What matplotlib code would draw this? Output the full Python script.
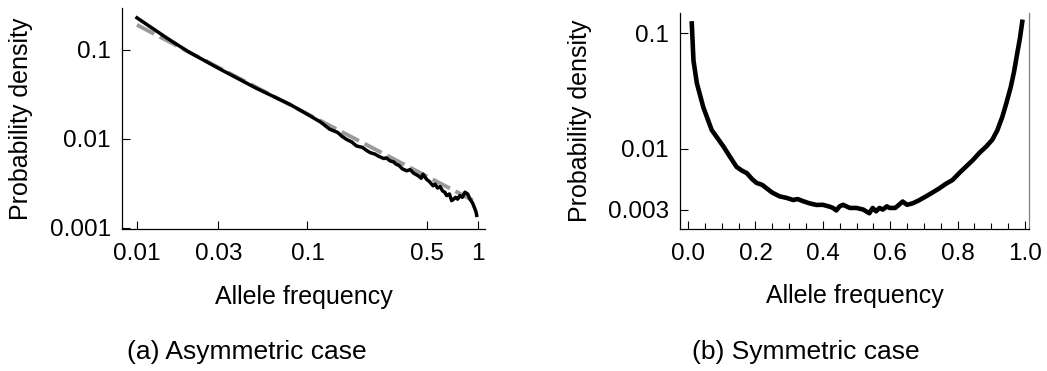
import numpy as np
import matplotlib
matplotlib.use("Agg")
import matplotlib.pyplot as plt
from matplotlib.ticker import FixedLocator, NullLocator, FixedFormatter, MultipleLocator

plt.rcParams["font.family"] = ["Liberation Sans", "DejaVu Sans"]

# (a) asymmetric case: simulated density (black) and power-law fit (grey dashed)
asym_x = [0.01, 0.012, 0.015, 0.02, 0.03, 0.05, 0.079, 0.1, 0.12, 0.135, 0.15,
          0.16, 0.17, 0.182, 0.194, 0.21, 0.222, 0.233, 0.25, 0.26, 0.28, 0.29,
          0.305, 0.32, 0.33, 0.345, 0.36, 0.382, 0.40, 0.42, 0.44, 0.45, 0.465,
          0.476, 0.49, 0.5, 0.52, 0.545, 0.56, 0.58, 0.60, 0.62, 0.64, 0.655,
          0.68, 0.701, 0.72, 0.74, 0.76, 0.784, 0.81, 0.839, 0.87, 0.898, 0.93,
          0.96, 0.975, 0.983]
asym_y = [0.228, 0.18, 0.135, 0.095, 0.062, 0.037, 0.0243, 0.0188, 0.0153, 0.0128,
          0.0118, 0.0106, 0.0098, 0.0092, 0.0083, 0.0080, 0.0074, 0.0070, 0.0067,
          0.0064, 0.0060, 0.0061, 0.00565, 0.0055, 0.0052, 0.0050, 0.0046, 0.00437,
          0.0045, 0.0041, 0.0039, 0.0038, 0.0036, 0.0040, 0.0037, 0.0035, 0.0033,
          0.00297, 0.0031, 0.0028, 0.0029, 0.0026, 0.0025, 0.0023, 0.0024, 0.00202,
          0.0021, 0.0022, 0.0021, 0.0023, 0.0022, 0.00251, 0.0024, 0.0021, 0.0019,
          0.00163, 0.0015, 0.00138]
fit_x = [0.01, 0.1, 0.5, 0.935]
fit_y = [0.19, 0.019, 0.0038, 0.00203]

# (b) symmetric case
sym_x = [0.011, 0.016, 0.026, 0.045, 0.070, 0.105, 0.125, 0.144, 0.16, 0.174,
         0.19, 0.203, 0.22, 0.233, 0.25, 0.272, 0.29, 0.312, 0.325, 0.341, 0.36,
         0.381, 0.40, 0.42, 0.43, 0.44, 0.45, 0.46, 0.48, 0.50, 0.52, 0.538, 0.548,
         0.558, 0.568, 0.578, 0.59, 0.598, 0.615, 0.637, 0.65, 0.667, 0.685, 0.706,
         0.725, 0.746, 0.765, 0.785, 0.805, 0.824, 0.845, 0.864, 0.885, 0.903,
         0.918, 0.933, 0.945, 0.958, 0.968, 0.977, 0.985, 0.992]
sym_y = [0.121, 0.058, 0.037, 0.023, 0.0146, 0.0105, 0.0085, 0.0070, 0.0065, 0.0062,
         0.0055, 0.0051, 0.0049, 0.00458, 0.0042, 0.0039, 0.0038, 0.00363, 0.0037,
         0.00355, 0.0034, 0.00329, 0.0033, 0.00318, 0.0031, 0.00295, 0.0032, 0.0033,
         0.0031, 0.0031, 0.0030, 0.00279, 0.0031, 0.0029, 0.0031, 0.0030, 0.0032,
         0.0031, 0.0031, 0.00352, 0.0033, 0.0034, 0.0036, 0.0039, 0.0042, 0.00458,
         0.0050, 0.0054, 0.0062, 0.0070, 0.0080, 0.0092, 0.0105, 0.0120, 0.0145,
         0.019, 0.025, 0.0344, 0.047, 0.0668, 0.09, 0.125]

asym_ticks = [0.01, 0.03, 0.1, 0.5, 1]
asym_labels = ["0.01", "0.03", "0.1", "0.5", "1"]
asym_yticks = [0.001, 0.01, 0.1]
asym_ylabels = ["0.001", "0.01", "0.1"]
sym_yticks = [0.003, 0.01, 0.1]
sym_ylabels = ["0.003", "0.01", "0.1"]

W, H = 1047, 371
fig = plt.figure(figsize=(W / 100, H / 100), dpi=100)

def px_axes(x0, y0, x1, y1):
    return fig.add_axes([x0 / W, 1 - y1 / H, (x1 - x0) / W, (y1 - y0) / H])

tick_fs = 17.5
label_fs = 18

# ---- left panel ----
ax1 = px_axes(122, 8, 485, 229)
ax1.plot(fit_x, fit_y, color="#9a9a9a", lw=2.8, dashes=(5, 1.6), zorder=2)
ax1.plot(asym_x, asym_y, color="black", lw=2.5, zorder=3)
ax1.set_xscale("log")
ax1.set_yscale("log")
ax1.set_xlim(0.00817, 1.1)
ax1.set_ylim(0.00097, 0.294)
ax1.xaxis.set_major_locator(FixedLocator(asym_ticks))
ax1.xaxis.set_major_formatter(FixedFormatter(asym_labels))
ax1.yaxis.set_major_locator(FixedLocator(asym_yticks))
ax1.yaxis.set_major_formatter(FixedFormatter(asym_ylabels))
ax1.xaxis.set_minor_locator(NullLocator())
ax1.yaxis.set_minor_locator(NullLocator())
for s in ["top", "right"]:
    ax1.spines[s].set_visible(False)

# ---- right panel ----
ax2 = px_axes(680, 13, 1029, 229)
ax2.plot(sym_x, sym_y, color="black", lw=3.3)
ax2.set_yscale("log")
ax2.set_xlim(-0.024, 1.012)
ax2.set_ylim(0.00204, 0.149)
ax2.xaxis.set_major_locator(MultipleLocator(0.2))
ax2.xaxis.set_major_formatter(matplotlib.ticker.FormatStrFormatter("%.1f"))
ax2.xaxis.set_minor_locator(MultipleLocator(0.05))
ax2.yaxis.set_major_locator(FixedLocator(sym_yticks))
ax2.yaxis.set_major_formatter(FixedFormatter(sym_ylabels))
ax2.yaxis.set_minor_locator(NullLocator())
ax2.spines["top"].set_visible(False)
ax2.spines["right"].set_color("#808080")

for ax in (ax1, ax2):
    ax.tick_params(which="major", direction="in", length=6, width=0.8,
                   labelsize=tick_fs, pad=8, top=False, right=False)
    ax.tick_params(which="minor", direction="in", length=4, width=0.8,
                   top=False, right=False)
    ax.tick_params(axis="x", pad=10)
    for s in ax.spines.values():
        s.set_linewidth(0.9)
    ax.set_xlabel("Allele frequency", fontsize=label_fs)
    ax.set_ylabel("Probability density", fontsize=label_fs)

ax1.xaxis.set_label_coords(0.5, -0.255)
ax2.xaxis.set_label_coords(0.5, -0.255)
ax1.yaxis.set_label_coords(-0.245, 0.5)
ax2.yaxis.set_label_coords(-0.252, 0.5)

fig.text(127 / W, 1 - 352 / H, "(a) Asymmetric case", fontsize=19, va="center", ha="left")
fig.text(692 / W, 1 - 352 / H, "(b) Symmetric case", fontsize=19, va="center", ha="left")

fig.savefig("out.png", dpi=100)
